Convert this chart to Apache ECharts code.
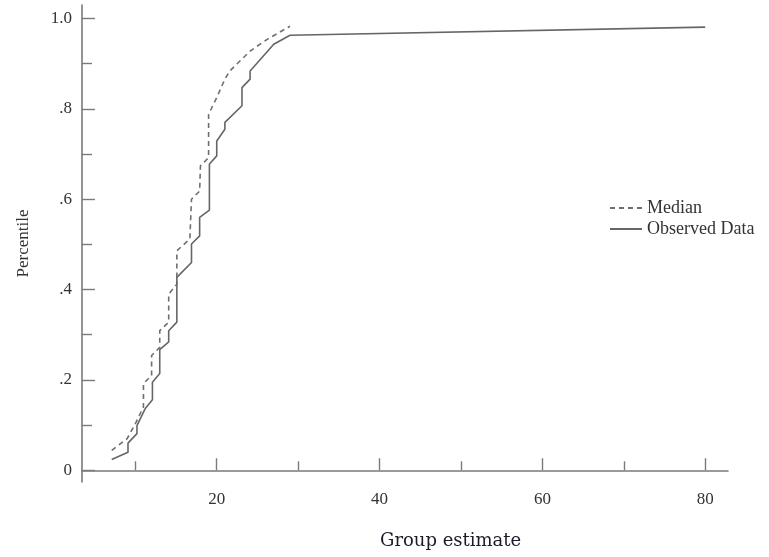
<!DOCTYPE html>
<html>
<head>
<meta charset="utf-8">
<script src="https://cdn.jsdelivr.net/npm/echarts@6/dist/echarts.min.js"></script>
<style>html,body{margin:0;padding:0;background:#fff}#c{width:769px;height:557px}</style>
</head>
<body>
<div id="c"></div>
<script>
// Data
var medianX = [7.1, 9.0, 10.0, 11.0, 11.0, 12.0, 12.0, 13.0, 13.0, 14.1, 14.1, 15.1, 15.1, 16.7, 16.9, 17.9, 18.0, 19.0, 19.0, 20.0, 21.0, 21.6, 24.1, 26.2, 29.0];
var medianY = [0.044, 0.070, 0.103, 0.140, 0.192, 0.210, 0.254, 0.272, 0.309, 0.328, 0.390, 0.412, 0.486, 0.512, 0.600, 0.618, 0.674, 0.692, 0.788, 0.825, 0.866, 0.884, 0.928, 0.954, 0.983];
var observedX = [7.1, 9.1, 9.1, 10.2, 10.2, 11.2, 12.1, 12.1, 13.0, 13.0, 14.1, 14.1, 15.1, 15.1, 16.9, 16.9, 17.9, 17.9, 19.1, 19.1, 20.0, 20.0, 21.0, 21.0, 23.1, 23.1, 24.1, 24.1, 27.0, 29.0, 80.0];
var observedY = [0.024, 0.040, 0.060, 0.081, 0.099, 0.136, 0.156, 0.195, 0.214, 0.267, 0.284, 0.309, 0.328, 0.427, 0.460, 0.501, 0.519, 0.560, 0.576, 0.678, 0.696, 0.729, 0.755, 0.770, 0.807, 0.847, 0.866, 0.884, 0.943, 0.963, 0.981];
var seriesNames = ['Median', 'Observed Data'];
var xMajorTicks = [20, 40, 60, 80];
var xMinorTicks = [10, 30, 50, 70];
var yMajorTicks = [0, 0.2, 0.4, 0.6, 0.8, 1.0];
var yMinorTicks = [0.1, 0.3, 0.5, 0.7, 0.9];
var yTickLabels = ['0', '.2', '.4', '.6', '.8', '1.0'];
var xTitle = 'Group estimate';
var yTitle = 'Percentile';

function pairs(xs, ys) { return xs.map(function (x, i) { return [x, ys[i]]; }); }

var serif = '"Liberation Serif", "Times New Roman", serif';
var axisColor = '#7a7a7a';
var XMIN = 3.45, XMAX = 82.8, YMIN = -0.026, YMAX = 1.03;

var chart = echarts.init(document.getElementById('c'), null, { renderer: 'canvas' });
chart.setOption({
  animation: false,
  backgroundColor: '#fff',
  title: {
    text: xTitle, left: 380, top: 532, padding: 0,
    textStyle: { fontFamily: '"DejaVu Serif", serif', fontSize: 18, fontWeight: 'normal', color: '#1c1c28' }
  },
  grid: { left: 82, right: 41, top: 5, bottom: 75, containLabel: false },
  legend: {
    orient: 'vertical', left: 604, top: 194,
    itemWidth: 32, itemHeight: 12, itemGap: 3,
    itemStyle: { opacity: 0 },
    textStyle: { fontFamily: serif, fontSize: 18, color: '#333' },
    data: seriesNames
  },
  xAxis: [{
    type: 'value', min: XMIN, max: XMAX, position: 'bottom',
    axisLine: { show: true, lineStyle: { color: axisColor, width: 1.6 } },
    axisTick: { show: true, inside: true, length: 12, customValues: xMajorTicks, lineStyle: { color: axisColor, width: 1.4 } },
    axisLabel: { customValues: xMajorTicks, margin: 9, fontFamily: serif, fontSize: 17, color: '#333' },
    splitLine: { show: false }
  }, {
    type: 'value', min: XMIN, max: XMAX, position: 'bottom',
    axisLine: { show: false },
    axisTick: { show: true, inside: true, length: 9, customValues: xMinorTicks, lineStyle: { color: axisColor, width: 1.4 } },
    axisLabel: { show: false }, splitLine: { show: false }
  }],
  yAxis: [{
    type: 'value', min: YMIN, max: YMAX, position: 'left',
    name: yTitle, nameLocation: 'middle', nameGap: 50, nameRotate: 90,
    nameTextStyle: { fontFamily: serif, fontSize: 17, color: '#333' },
    axisLine: { show: true, lineStyle: { color: axisColor, width: 1.6 } },
    axisTick: { show: true, inside: true, length: 13, customValues: yMajorTicks, lineStyle: { color: axisColor, width: 1.4 } },
    axisLabel: {
      customValues: yMajorTicks, margin: 10, fontFamily: serif, fontSize: 17, color: '#333',
      formatter: function (v) {
        var i = yMajorTicks.findIndex(function (t) { return Math.abs(t - v) < 1e-6; });
        return i >= 0 ? yTickLabels[i] : '';
      }
    },
    splitLine: { show: false }
  }, {
    type: 'value', min: YMIN, max: YMAX, position: 'left',
    axisLine: { show: false },
    axisTick: { show: true, inside: true, length: 10, customValues: yMinorTicks, lineStyle: { color: axisColor, width: 1.4 } },
    axisLabel: { show: false }, splitLine: { show: false }
  }],
  series: [{
    name: seriesNames[0], type: 'line', xAxisIndex: 0, yAxisIndex: 0,
    data: pairs(medianX, medianY), symbol: 'none', silent: true,
    lineStyle: { color: '#6e6e6e', width: 1.6, type: [5, 4] },
    itemStyle: { color: '#6e6e6e' }
  }, {
    name: seriesNames[1], type: 'line', xAxisIndex: 0, yAxisIndex: 0,
    data: pairs(observedX, observedY), symbol: 'none', silent: true,
    lineStyle: { color: '#666', width: 1.6 },
    itemStyle: { color: '#666' }
  }]
});
</script>
</body>
</html>
